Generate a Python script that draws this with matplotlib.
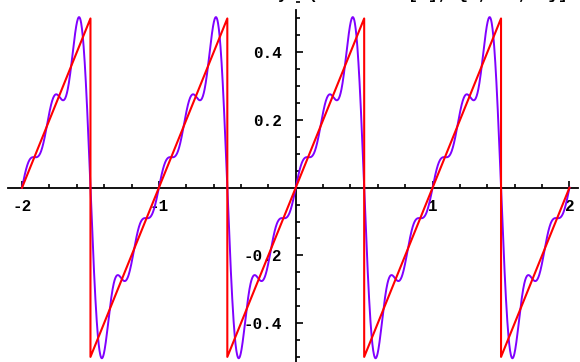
import numpy as np
import matplotlib
matplotlib.use("Agg")
import matplotlib.pyplot as plt
from matplotlib.ticker import FixedLocator, MultipleLocator

plt.rcParams['axes.unicode_minus'] = False

# --- data ---
# red sawtooth x - Round[x], corners
saw_x = [-2.0, -1.5, -1.5, -0.5, -0.5, 0.5, 0.5, 1.5, 1.5, 2.0]
saw_y = [0.0, 0.5, -0.5, 0.5, -0.5, 0.5, -0.5, 0.5, -0.5, 0.0]

# purple curve: 5-term sine series of the same sawtooth
sine_coeffs = [0.3183, -0.1592, 0.1061, -0.0796, 0.0637]

x_ticks = [-2, -1, 1, 2]
x_tick_labels = ["-2", "-1", "1", "2"]
y_ticks = [-0.4, -0.2, 0.2, 0.4]
y_tick_labels = ["-0.4", "-0.2", "0.2", "0.4"]

title = "Fourier Series y  (x - Round[x], {x, -1, 1}]"
# -------------

xs = np.linspace(-2, 2, 2001)
partial = np.zeros_like(xs)
for k, b in enumerate(sine_coeffs, start=1):
    partial += b * np.sin(2 * np.pi * k * xs)

fig = plt.figure(figsize=(5.8, 3.62), dpi=100)
ax = fig.add_axes([0, 0, 1, 1])
ax.set_xlim(-2.161, 2.077)
ax.set_ylim(-0.515, 0.5545)

ax.plot(xs, partial, color="#8000ff", lw=1.4, zorder=3)
ax.plot(saw_x, saw_y, color="#ff0000", lw=1.5, zorder=4)

# Mathematica-style axes crossing at the origin
for side in ("top", "right"):
    ax.spines[side].set_visible(False)
ax.spines["left"].set_position(("data", 0))
ax.spines["bottom"].set_position(("data", 0))
ax.spines["bottom"].set_bounds(-2.1, 2.06)
ax.spines["left"].set_bounds(-0.52, 0.525)
for side in ("left", "bottom"):
    ax.spines[side].set_linewidth(1.3)

ax.xaxis.set_major_locator(FixedLocator(x_ticks))
ax.set_xticklabels(x_tick_labels)
ax.xaxis.set_minor_locator(MultipleLocator(0.2))
ax.yaxis.set_major_locator(FixedLocator(y_ticks))
ax.set_yticklabels(y_tick_labels)
ax.yaxis.set_minor_locator(MultipleLocator(0.05))

ax.tick_params(which="both", direction="in", width=1.2)
ax.tick_params(which="major", length=5)
ax.tick_params(which="minor", length=3)
ax.tick_params(axis="x", pad=8)
ax.tick_params(axis="y", pad=10)
for lab in ax.get_xticklabels() + ax.get_yticklabels():
    lab.set_fontfamily("Liberation Mono")
    lab.set_fontsize(11.5)
    lab.set_fontweight("bold")

fig.text(0.6, 1 + 1.0 / 362, title, ha="center", va="baseline",
         fontfamily="Liberation Mono", fontsize=12, fontweight="bold")

fig.savefig("out.png", dpi=100)
